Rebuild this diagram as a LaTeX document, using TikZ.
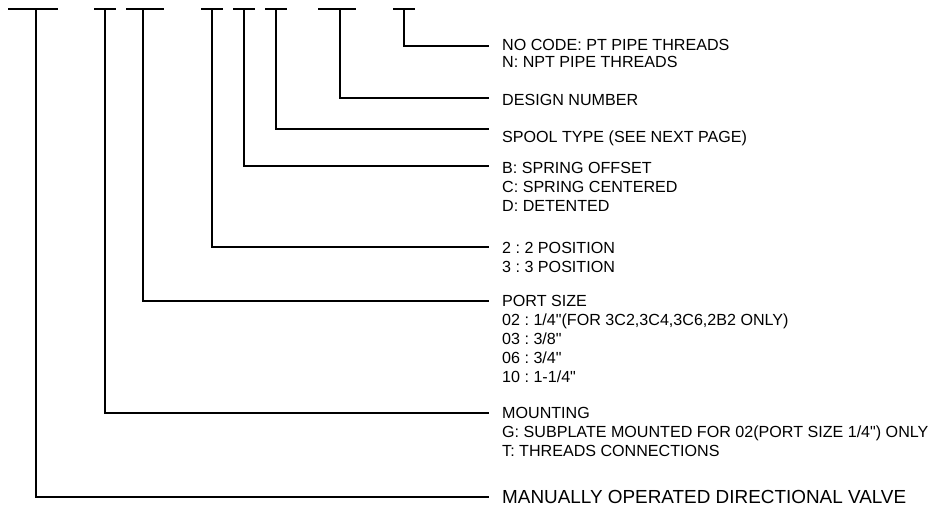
\documentclass[tikz,border=0pt]{standalone}
\usepackage{fontspec}
\setmainfont{Liberation Sans}[Ligatures=TeXOff]
\frenchspacing
\begin{document}
\begin{tikzpicture}[x=1pt,y=-1pt,
  lead/.style={line width=1.8pt, line cap=butt, line join=miter},
  lbl/.style={anchor=base west, inner sep=0pt, font=\fontsize{16.1}{18.8}\selectfont},
  biglbl/.style={anchor=base west, inner sep=0pt, font=\fontsize{18.9}{22}\selectfont}]
\useasboundingbox (0,0) rectangle (930,506);

% bars (left end, right end), stem tops, line ends
\coordinate (bl1) at (8,9);   \coordinate (br1) at (58,9);  \coordinate (s1) at (36,9);  \coordinate (e1) at (489,497);
\coordinate (bl2) at (94,9);  \coordinate (br2) at (116,9); \coordinate (s2) at (105,9); \coordinate (e2) at (489,413);
\coordinate (bl3) at (126,9); \coordinate (br3) at (164,9); \coordinate (s3) at (143,9); \coordinate (e3) at (489,301);
\coordinate (bl4) at (201,9); \coordinate (br4) at (223,9); \coordinate (s4) at (212,9); \coordinate (e4) at (489,247);
\coordinate (bl5) at (233,9); \coordinate (br5) at (255,9); \coordinate (s5) at (244,9); \coordinate (e5) at (489,166);
\coordinate (bl6) at (265,9); \coordinate (br6) at (287,9); \coordinate (s6) at (276,9); \coordinate (e6) at (489,129);
\coordinate (bl7) at (318,9); \coordinate (br7) at (356,9); \coordinate (s7) at (340,9); \coordinate (e7) at (489,98);
\coordinate (bl8) at (393,9); \coordinate (br8) at (415,9); \coordinate (s8) at (404,9); \coordinate (e8) at (489,46);

\foreach \i in {1,...,8}{
  \draw[lead] (bl\i) -- (br\i);
  \draw[lead] (s\i) |- (e\i);
}

\node[lbl] (t8) at (502,50.3) {\begin{tabular}[t]{@{}l@{}}NO CODE: PT PIPE THREADS\\[-1.3pt]N: NPT PIPE THREADS\end{tabular}};
\node[lbl] (t7) at (502,105.8) {DESIGN NUMBER};
\node[lbl] (t6) at (502,142.8) {SPOOL TYPE (SEE NEXT PAGE)};
\node[lbl] (t5) at (502,173.8) {\begin{tabular}[t]{@{}l@{}}B: SPRING OFFSET\\C: SPRING CENTERED\\D: DETENTED\end{tabular}};
\node[lbl] (t4) at (502,253.8) {\begin{tabular}[t]{@{}l@{}}2 : 2 POSITION\\3 : 3 POSITION\end{tabular}};
\node[lbl] (t3) at (502,306.8) {\begin{tabular}[t]{@{}l@{}}PORT SIZE\\02 : 1/4"(FOR 3C2,3C4,3C6,2B2 ONLY)\\03 : 3/8"\\06 : 3/4"\\10 : 1-1/4"\end{tabular}};
\node[lbl] (t2) at (502,418.8) {\begin{tabular}[t]{@{}l@{}}MOUNTING\\G: SUBPLATE MOUNTED FOR 02(PORT SIZE 1/4") ONLY\\T: THREADS CONNECTIONS\end{tabular}};
\node[biglbl] (t1) at (502,503.8) {MANUALLY OPERATED DIRECTIONAL VALVE};
\end{tikzpicture}
\end{document}
